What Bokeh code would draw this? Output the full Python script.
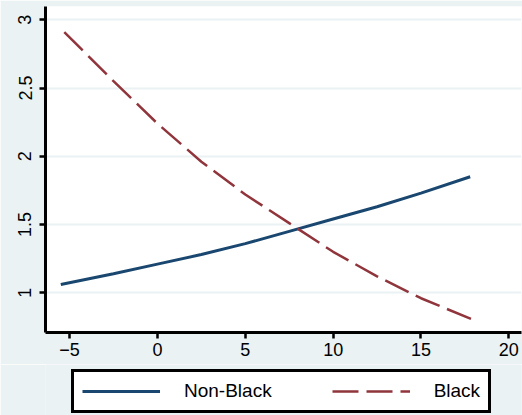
from bokeh.plotting import figure
from bokeh.layouts import column
from bokeh.models import Range1d, Legend, LegendItem, FixedTicker
from bokeh.embed import file_html
from bokeh.resources import INLINE

# data
x_nonblack = [-5.5, -2.5, 0, 2.5, 5, 7.5, 10, 12.5, 15, 17.8]
y_nonblack = [1.06, 1.14, 1.21, 1.28, 1.36, 1.45, 1.54, 1.63, 1.73, 1.85]
x_black = [-5.3, -2.5, 0, 2.5, 5, 7.5, 10, 12.5, 15, 18.0]
y_black = [2.91, 2.55, 2.24, 1.96, 1.72, 1.51, 1.30, 1.12, 0.96, 0.80]
x_ticks = [-5, 0, 5, 10, 15, 20]
y_ticks = [1, 1.5, 2, 2.5, 3]
series_names = ["Non-Black", "Black"]

BG = "#EAF2F3"
FONT = "Liberation Sans"
NAVY = "#1A476F"
MAROON = "#90353B"

p = figure(width=522, height=364, output_backend="svg", toolbar_location=None,
           x_range=Range1d(-6.37, 20.72), y_range=Range1d(0.709, 3.097),
           min_border_left=45, min_border_right=1, min_border_top=6, min_border_bottom=32)
p.border_fill_color = BG
p.background_fill_color = "white"
p.outline_line_color = None

p.line(x_nonblack, y_nonblack, line_color=NAVY, line_width=3)
p.line(x_black, y_black, line_color=MAROON, line_width=2.5, line_dash="26 8")

p.xgrid.grid_line_color = None
p.ygrid.grid_line_color = BG
p.ygrid.grid_line_width = 2
p.xaxis.ticker = FixedTicker(ticks=x_ticks)
p.yaxis.ticker = FixedTicker(ticks=y_ticks)
p.yaxis.major_label_overrides = {1: "1", 1.5: "1.5", 2: "2", 2.5: "2.5", 3: "3"}
for ax in (p.xaxis[0], p.yaxis[0]):
    ax.axis_line_color = "black"
    ax.axis_line_width = 3
    ax.major_tick_line_color = "black"
    ax.major_tick_line_width = 2.5
    ax.major_tick_in = 0
    ax.major_tick_out = 6
    ax.minor_tick_line_color = None
    ax.major_label_text_font = FONT
    ax.major_label_text_font_size = "18px"
    ax.major_label_text_color = "black"
    ax.major_label_standoff = 4
p.yaxis.major_label_orientation = "vertical"
p.yaxis.major_label_standoff = 8

# legend strip below the chart (series drawn off-view; only the legend shows)
q = figure(width=522, height=51, output_backend="svg", toolbar_location=None,
           x_range=Range1d(100, 101), y_range=Range1d(100, 101),
           x_axis_type=None, y_axis_type=None,
           min_border_left=0, min_border_right=0, min_border_top=0, min_border_bottom=0)
q.border_fill_color = BG
q.background_fill_color = BG
q.outline_line_color = None
q.xgrid.grid_line_color = None
q.ygrid.grid_line_color = None
g1 = q.line(x_nonblack, y_nonblack, line_color=NAVY, line_width=3)
g2 = q.line(x_black, y_black, line_color=MAROON, line_width=2.5, line_dash="26 8")

legend = Legend(items=[LegendItem(label=series_names[0], renderers=[g1]),
                       LegendItem(label=series_names[1], renderers=[g2])],
                orientation="horizontal", location=(26, 2))
legend.border_line_color = "black"
legend.border_line_alpha = 1
legend.border_line_width = 3
legend.background_fill_color = "white"
legend.background_fill_alpha = 1
legend.label_text_font = FONT
legend.label_text_font_size = "19px"
legend.label_text_color = "black"
legend.glyph_width = 78
legend.glyph_height = 20
legend.label_standoff = 24
legend.spacing = 60
legend.padding = 8
legend.margin = 0
q.add_layout(legend, "center")

layout = column(p, q, spacing=0)
open("out.html", "w").write(file_html(layout, INLINE))
